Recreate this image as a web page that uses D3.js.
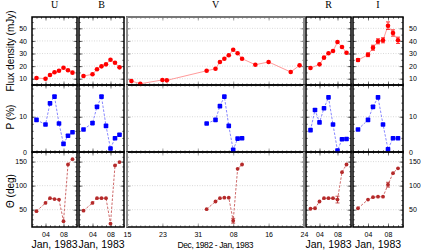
<!DOCTYPE html>
<html>
<head>
<meta charset="utf-8">
<script src="https://cdn.jsdelivr.net/npm/d3@7"></script>
<style>
body { margin: 0; background: #fff; }
text { font-family: "Liberation Sans", Arial, sans-serif; }
</style>
</head>
<body>
<div id="chart"></div>
<script>
var bands = ["U", "B", "V", "R", "I"];
var janDates = ["1983-01-02", "1983-01-04", "1983-01-05", "1983-01-06", "1983-01-07", "1983-01-08", "1983-01-09", "1983-01-10"];
var vFluxDates = ["1982-12-16", "1982-12-18", "1982-12-23", "1982-12-24", "1983-01-02", "1983-01-04", "1983-01-05", "1983-01-06",
                  "1983-01-07", "1983-01-08", "1983-01-09", "1983-01-10", "1983-01-13", "1983-01-16", "1983-01-21", "1983-01-23"];
var rPolDates = ["1983-01-02", "1983-01-03", "1983-01-04", "1983-01-05", "1983-01-06", "1983-01-07", "1983-01-08", "1983-01-09", "1983-01-10"];

var fluxU = [10.6, 10.0, 12.9, 15.1, 16.3, 18.7, 16.7, 14.8];
var fluxB = [12.1, 13.5, 17.5, 19.8, 21.4, 25.1, 22.7, 19.0];
var fluxV = [8.2, 6.0, 9.0, 8.7, 16.3, 17.9, 23.3, 25.9, 28.6, 33.0, 30.2, 25.9, 21.1, 23.3, 15.3, 20.6];
var fluxR = [18.5, 21.4, 26.7, 30.2, 32.0, 39.1, 35.2, 30.6];
var fluxI = [24.8, 29.0, 34.6, 39.7, 40.5, 52.1, 46.3, 40.5];
var fluxIerr = [1.2, 1.5, 2, 2, 2, 3, 2.5, 2.5];

var polU = [9.1, 7.8, 13.8, 15.7, 8.1, 2.3, 4.6, 5.6];
var polB = [6.4, 8.2, 12.8, 15.7, 7.4, 1.0, 3.9, 4.9];
var polV = [8.1, 9.1, 13.0, 15.7, 7.4, 0.6, 3.8, 3.9];
var polR = [6.2, 11.9, 8.4, 12.4, 15.5, 7.8, 0.4, 3.6, 3.7];
var polI = [6.4, 9.1, 12.8, 15.5, 7.8, 0.8, 3.9, 3.9];

var angU = [47, 64, 74, 72, 71, 26, 144, 155];
var angB = [48, 64, 74, 74, 74, 21, 142, 149];
var angV = [51, 67, 74, 75, 75, 27, 135, 144];
var angVerr = [0, 0, 0, 0, 0, 5, 0, 0];
var angR = [52, 53, 67, 74, 74, 74, 71, 128, 144];
var angRerr = [0, 0, 0, 0, 0, 0, 7, 0, 0];
var angI = [53, 71, 76, 77, 77, 102, 126, 136];
var angIerr = [0, 0, 0, 0, 0, 5, 0, 0];

var parse = d3.utcParse("%Y-%m-%d");
function series(dates, vals, errs) {
  return dates.map(function(d, i) { return {t: parse(d), v: vals[i], e: errs ? errs[i] : 0}; });
}

var data = {
  U: {flux: series(janDates, fluxU), pol: series(janDates, polU), ang: series(janDates, angU)},
  B: {flux: series(janDates, fluxB), pol: series(janDates, polB), ang: series(janDates, angB)},
  V: {flux: series(vFluxDates, fluxV), pol: series(janDates, polV), ang: series(janDates, angV, angVerr)},
  R: {flux: series(janDates, fluxR), pol: series(rPolDates, polR), ang: series(rPolDates, angR, angRerr)},
  I: {flux: series(janDates, fluxI, fluxIerr), pol: series(janDates, polI), ang: series(janDates, angI, angIerr)}
};

// layout
var W = 422, H = 251;
var cols = {
  U: {x0: 32, x1: 77, from: "1983-01-01", to: "1983-01-11"},
  B: {x0: 79, x1: 124, from: "1983-01-01", to: "1983-01-11"},
  V: {x0: 127, x1: 304, from: "1982-12-15", to: "1983-01-24"},
  R: {x0: 306, x1: 351, from: "1983-01-01", to: "1983-01-11"},
  I: {x0: 353, x1: 403, from: "1983-01-01", to: "1983-01-11"}
};
var rows = [
  {key: "flux", y0: 17, y1: 85, domain: [5, 59], ticks: [10, 20, 30, 40, 50], minor: 5,
   title: "Flux density (mJy)", tcy: 51, color: "#ff0000", line: "#ff8f8f", dash: null, r: 2.3},
  {key: "pol", y0: 85, y1: 152, domain: [0, 19], ticks: [0, 10], minor: 2,
   title: "P (%)", tcy: 117, color: "#0000ff", line: "#7a7aff", dash: "2.5,1.5", r: 2.3},
  {key: "ang", y0: 152, y1: 227, domain: [14, 170], ticks: [50, 100, 150], minor: 10,
   title: "\u0398 (deg)", tcy: 191, color: "#b52a2a", line: "#c85a5a", dash: "2.5,1.5", r: 1.9}
];

var svg = d3.select("#chart").append("svg")
  .attr("width", W)
  .attr("height", H);

bands.forEach(function(b) {
  var c = cols[b];
  var x = d3.scaleUtc().domain([parse(c.from), parse(c.to)]).range([c.x0, c.x1]);
  var days = d3.utcDay.range(parse(c.from), d3.utcDay.offset(parse(c.to), 1));
  var majors = b == "V"
    ? d3.range(0, 6).map(function(k) { return d3.utcDay.offset(parse("1982-12-15"), 8 * k); })
    : [parse("1983-01-04"), parse("1983-01-08")];

  // band label
  svg.append("text")
    .attr("x", (c.x0 + c.x1) / 2).attr("y", 8)
    .attr("text-anchor", "middle")
    .style("font-family", "'Liberation Serif', serif")
    .style("font-size", "10px")
    .text(b);

  rows.forEach(function(row, ri) {
    var y = d3.scaleLinear().domain(row.domain).range([row.y1, row.y0]);
    var g = svg.append("g");

    // grid
    g.selectAll(".grid").data(row.ticks.filter(function(t) { return t > row.domain[0]; }))
      .enter().append("line")
      .attr("x1", c.x0).attr("x2", c.x1)
      .attr("y1", function(d) { return y(d); }).attr("y2", function(d) { return y(d); })
      .attr("stroke", "#cfcfcf").attr("stroke-width", 0.8)
      .attr("stroke-dasharray", "1,1.5");

    // x ticks, top and bottom, pointing inside
    var minorTop = d3.axisTop(x).tickValues(days).tickSizeInner(-1.8).tickSizeOuter(0).tickFormat("");
    var majorTop = d3.axisTop(x).tickValues(majors).tickSizeInner(-3.5).tickSizeOuter(0).tickFormat("");
    var minorBot = d3.axisBottom(x).tickValues(days).tickSizeInner(-1.8).tickSizeOuter(0).tickFormat("");
    var majorBot = d3.axisBottom(x).tickValues(majors).tickSizeInner(-3.5).tickSizeOuter(0).tickPadding(5)
      .tickFormat(ri == 2 ? d3.utcFormat("%d") : "");
    g.append("g").attr("transform", "translate(0," + row.y0 + ")").call(minorTop);
    g.append("g").attr("transform", "translate(0," + row.y0 + ")").call(majorTop);
    g.append("g").attr("transform", "translate(0," + row.y1 + ")").call(minorBot);
    g.append("g").attr("transform", "translate(0," + row.y1 + ")").call(majorBot);

    // y ticks
    var minors = d3.range(Math.ceil(row.domain[0] / row.minor) * row.minor, row.domain[1], row.minor);
    g.append("g").attr("transform", "translate(" + c.x0 + ",0)")
      .call(d3.axisLeft(y).tickValues(minors).tickSizeInner(-1.8).tickSizeOuter(0).tickFormat(""));
    g.append("g").attr("transform", "translate(" + c.x1 + ",0)")
      .call(d3.axisRight(y).tickValues(minors).tickSizeInner(-1.8).tickSizeOuter(0).tickFormat(""));
    g.append("g").attr("transform", "translate(" + c.x0 + ",0)")
      .call(d3.axisLeft(y).tickValues(row.ticks).tickSizeInner(-3.5).tickSizeOuter(0).tickPadding(5)
        .tickFormat(b == "U" ? d3.format("d") : ""));
    g.append("g").attr("transform", "translate(" + c.x1 + ",0)")
      .call(d3.axisRight(y).tickValues(row.ticks).tickSizeInner(-3.5).tickSizeOuter(0).tickPadding(6)
        .tickFormat(b == "I" ? d3.format("d") : ""));

    g.selectAll(".domain").remove();
    g.selectAll(".tick line").attr("stroke", b == "V" ? "#666" : "#222").attr("stroke-width", 0.6);
    g.selectAll(".tick text").style("font-size", "7px").attr("fill", "#000");

    // frame
    g.append("rect")
      .attr("x", c.x0).attr("y", row.y0)
      .attr("width", c.x1 - c.x0).attr("height", row.y1 - row.y0)
      .attr("fill", "none").attr("stroke", "#000").attr("stroke-width", 1.5);
    if (b == "V") {
      g.append("line").attr("x1", c.x0).attr("x2", c.x0).attr("y1", row.y0).attr("y2", row.y1)
        .attr("stroke", "#8c8c8c").attr("stroke-width", 2);
      g.append("line").attr("x1", c.x1).attr("x2", c.x1).attr("y1", row.y0).attr("y2", row.y1)
        .attr("stroke", "#8c8c8c").attr("stroke-width", 2);
      if (ri == 0) {
        g.append("line").attr("x1", c.x0).attr("x2", c.x1).attr("y1", row.y0).attr("y2", row.y0)
          .attr("stroke", "#8c8c8c").attr("stroke-width", 1.5);
      }
    }

    // data
    var pts = data[b][row.key];
    var line = d3.line().x(function(d) { return x(d.t); }).y(function(d) { return y(d.v); });
    g.append("path")
      .attr("d", line(pts))
      .attr("fill", "none")
      .attr("stroke", row.line)
      .attr("stroke-width", 0.9)
      .attr("stroke-dasharray", row.dash);

    var eb = pts.filter(function(d) { return d.e > 0; });
    g.selectAll(".eb").data(eb).enter().append("path")
      .attr("d", function(d) {
        var xx = x(d.t), a = y(d.v + d.e), z = y(d.v - d.e);
        return "M" + (xx - 2) + "," + a + "H" + (xx + 2) + "M" + xx + "," + a + "V" + z + "M" + (xx - 2) + "," + z + "H" + (xx + 2);
      })
      .attr("stroke", row.color).attr("stroke-width", 0.8).attr("fill", "none");

    if (row.key == "pol") {
      g.selectAll(".pt").data(pts).enter().append("rect")
        .attr("x", function(d) { return x(d.t) - row.r; })
        .attr("y", function(d) { return y(d.v) - row.r; })
        .attr("width", row.r * 2).attr("height", row.r * 2)
        .attr("rx", 0.8)
        .attr("fill", row.color);
    } else {
      g.selectAll(".pt").data(pts).enter().append("circle")
        .attr("cx", function(d) { return x(d.t); })
        .attr("cy", function(d) { return y(d.v); })
        .attr("r", row.r)
        .attr("fill", row.color);
    }
  });

  // x axis caption
  svg.append("text")
    .attr("x", (c.x0 + c.x1) / 2).attr("y", 248)
    .attr("text-anchor", "middle")
    .style("font-size", b == "V" ? "8.5px" : "10.5px")
    .attr("textLength", b == "V" ? 76 : null)
    .text(b == "V" ? "Dec, 1982 - Jan, 1983" : "Jan, 1983");
});

// row titles
rows.forEach(function(row) {
  svg.append("text")
    .attr("transform", "translate(14," + row.tcy + ") rotate(-90)")
    .attr("text-anchor", "middle")
    .style("font-size", "10px")
    .text(row.title);
});
</script>
</body>
</html>
